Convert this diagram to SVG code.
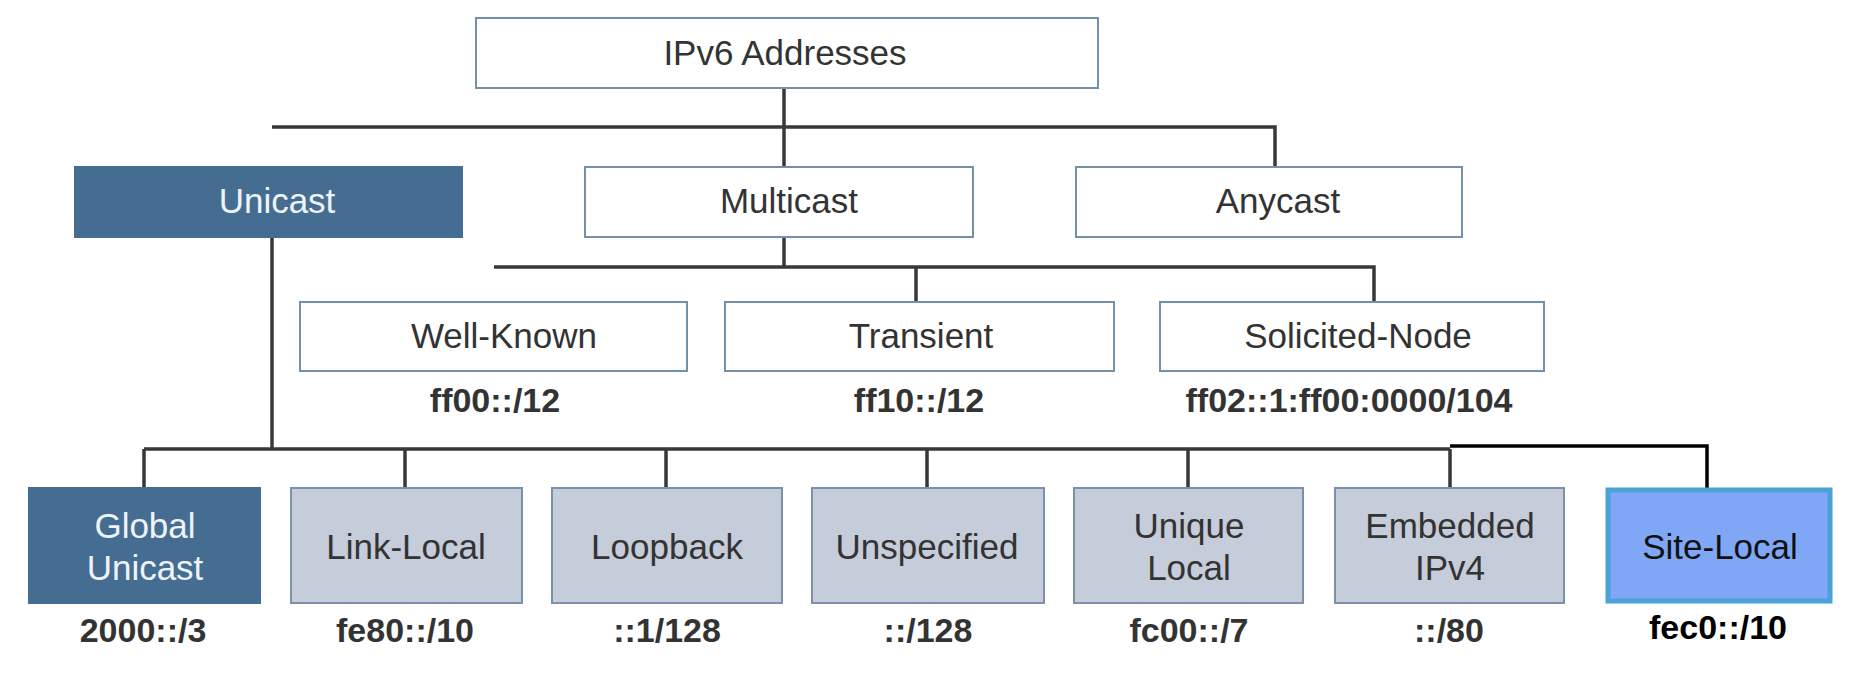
<svg xmlns="http://www.w3.org/2000/svg" width="1858" height="684" viewBox="0 0 1858 684">
<style>
.wbox{fill:#ffffff;stroke:#7590ac;stroke-width:2}
.gbox{fill:#c5ccda;stroke:#7b90aa;stroke-width:2}
.dbox{fill:#456d92;stroke:#456d92;stroke-width:2}
.sbox{fill:#80a7f5;stroke:#4aa2d8;stroke-width:5}
.t{font-family:"Liberation Sans",Arial,sans-serif;font-size:35px;fill:#333;text-anchor:middle}
.tw{fill:#eef3f8}
.tk{fill:#111}
.b{font-family:"Liberation Sans",Arial,sans-serif;font-size:34px;font-weight:bold;fill:#333;text-anchor:middle}
.bk{fill:#000}
.c{fill:none;stroke:#383838;stroke-width:3.5}
.ck{fill:none;stroke:#000;stroke-width:3.5}
</style>
<rect width="1858" height="684" fill="#ffffff"/>
<g id="connectors">
<path class="c" d="M784 88V127M272 127H1275V167M784 127V167M272 237V449M784 237V267M494 267H1374V302M916 267V302M144 449H1450M144 449V488M405 449V488M666 449V488M927 449V488M1188 449V488M1450 449V488"/>
<path class="ck" d="M1450 446H1707V488"/>
</g>
<g id="ipv6"><rect class="wbox" x="476" y="18" width="622" height="70"/><text class="t" x="785" y="65">IPv6 Addresses</text></g>
<g id="unicast"><rect class="dbox" x="75" y="167" width="387" height="70"/><text class="t tw" x="277" y="213">Unicast</text></g>
<g id="multicast"><rect class="wbox" x="585" y="167" width="388" height="70"/><text class="t" x="789" y="213">Multicast</text></g>
<g id="anycast"><rect class="wbox" x="1076" y="167" width="386" height="70"/><text class="t" x="1278" y="213">Anycast</text></g>
<g id="wellknown"><rect class="wbox" x="300" y="302" width="387" height="69"/><text class="t" x="504" y="348">Well-Known</text><text class="b" x="495" y="412">ff00::/12</text></g>
<g id="transient"><rect class="wbox" x="725" y="302" width="389" height="69"/><text class="t" x="921" y="348">Transient</text><text class="b" x="919" y="412">ff10::/12</text></g>
<g id="solicited"><rect class="wbox" x="1160" y="302" width="384" height="69"/><text class="t" x="1358" y="348">Solicited-Node</text><text class="b" x="1349" y="412">ff02::1:ff00:0000/104</text></g>
<g id="global"><rect class="dbox" x="29" y="488" width="231" height="115"/><text class="t tw" x="145" y="538">Global</text><text class="t tw" x="145" y="580">Unicast</text><text class="b" x="143" y="642">2000::/3</text></g>
<g id="linklocal"><rect class="gbox" x="291" y="488" width="231" height="115"/><text class="t" x="406" y="559">Link-Local</text><text class="b" x="405" y="642">fe80::/10</text></g>
<g id="loopback"><rect class="gbox" x="552" y="488" width="230" height="115"/><text class="t" x="667" y="559">Loopback</text><text class="b" x="667" y="642">::1/128</text></g>
<g id="unspecified"><rect class="gbox" x="812" y="488" width="232" height="115"/><text class="t" x="927" y="559">Unspecified</text><text class="b" x="928" y="642">::/128</text></g>
<g id="uniquelocal"><rect class="gbox" x="1074" y="488" width="229" height="115"/><text class="t" x="1189" y="538">Unique</text><text class="t" x="1189" y="580">Local</text><text class="b" x="1189" y="642">fc00::/7</text></g>
<g id="embedded"><rect class="gbox" x="1335" y="488" width="229" height="115"/><text class="t" x="1450" y="538">Embedded</text><text class="t" x="1450" y="580">IPv4</text><text class="b" x="1449" y="642">::/80</text></g>
<g id="sitelocal"><rect class="sbox" x="1608" y="490" width="222" height="111"/><text class="t tk" x="1720" y="559">Site-Local</text><text class="b bk" x="1718" y="639">fec0::/10</text></g>
</svg>
